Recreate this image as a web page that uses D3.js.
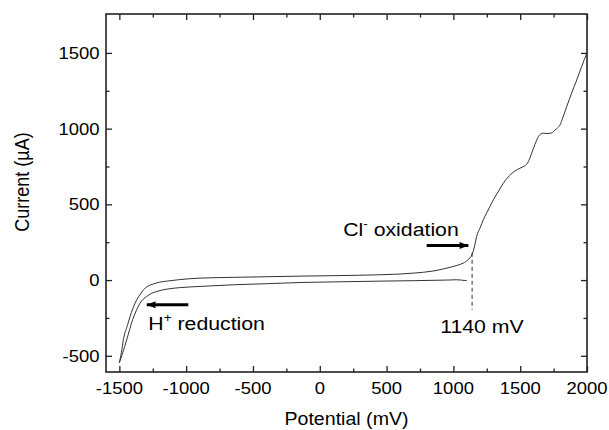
<!DOCTYPE html>
<html>
<head>
<meta charset="utf-8">
<script src="https://cdn.jsdelivr.net/npm/d3@7"></script>
<style>
  body { margin: 0; background: #fff; }
  text { font-family: "Liberation Sans", Arial, sans-serif; fill: #000; }
</style>
</head>
<body>
<div id="chart"></div>
<script>
// upper branch (anodic sweep)
const upperPotential = [-1500, -1485, -1470, -1440, -1400, -1370, -1345, -1320, -1290, -1246, -1200, -1145, -1050, -896, -647, -400, -148, 100, 300, 450, 600, 701, 850, 950, 1030, 1074, 1110, 1140, 1160, 1174, 1200, 1224, 1250, 1274, 1299, 1340, 1374, 1420, 1460, 1499, 1530, 1549, 1570, 1586, 1610, 1636, 1655, 1673, 1700, 1736, 1760, 1780, 1798, 1820, 1848, 1885, 1923, 1960, 2000];
const upperCurrent = [-545, -480, -394, -300, -190, -130, -95, -64, -42, -26, -14, -7, 3, 13, 18, 22, 26, 29, 32, 35, 40, 46, 60, 79, 98, 112, 135, 170, 230, 288, 345, 398, 445, 486, 530, 590, 640, 690, 720, 739, 752, 765, 800, 838, 895, 947, 965, 970, 968, 972, 990, 1005, 1024, 1075, 1145, 1235, 1321, 1410, 1501];
// lower branch
const lowerPotential = [-1500, -1475, -1445, -1400, -1370, -1345, -1320, -1295, -1260, -1220, -1145, -1050, -896, -647, -400, -148, 100, 450, 700, 950, 1020, 1060, 1085, 1100];
const lowerCurrent = [-545, -480, -394, -260, -195, -152, -125, -108, -88, -75, -60, -50, -42, -31, -24, -16, -12, -7, -4, 0, 2, 0, -3, -2];

const xMajor = [-1500, -1000, -500, 0, 500, 1000, 1500, 2000];
const xMinor = [-1250, -750, -250, 250, 750, 1250, 1750];
const yMajor = [-500, 0, 500, 1000, 1500];
const yMinor = [-250, 250, 750, 1250];

const W = 609, H = 430;
const mLeft = 106, mTop = 14, mRight = 587, mBottom = 372;
const SX = 1.12; // horizontal stretch of the lettering

const svg = d3.select("#chart").append("svg").attr("width", W).attr("height", H);

const x = d3.scaleLinear().domain([-1600, 2000]).range([mLeft, mRight]);
const y = d3.scaleLinear().domain([-607, 1757]).range([mBottom, mTop]);

const line = d3.line().x(d => x(d[0])).y(d => y(d[1])).curve(d3.curveMonotoneX);

// ticks on all four sides, pointing in
const gb = svg.append("g").attr("transform", `translate(0,${mBottom})`);
gb.call(d3.axisTop(x).tickValues(xMajor).tickSize(6).tickFormat(""));
gb.append("g").call(d3.axisTop(x).tickValues(xMinor).tickSize(3.5).tickFormat(""));
const gt = svg.append("g").attr("transform", `translate(0,${mTop})`);
gt.call(d3.axisBottom(x).tickValues(xMajor).tickSize(6).tickFormat(""));
gt.append("g").call(d3.axisBottom(x).tickValues(xMinor).tickSize(3.5).tickFormat(""));
const gl = svg.append("g").attr("transform", `translate(${mLeft},0)`);
gl.call(d3.axisRight(y).tickValues(yMajor).tickSize(6).tickFormat(""));
gl.append("g").call(d3.axisRight(y).tickValues(yMinor).tickSize(3.5).tickFormat(""));
const gr = svg.append("g").attr("transform", `translate(${mRight},0)`);
gr.call(d3.axisLeft(y).tickValues(yMajor).tickSize(6).tickFormat(""));
gr.append("g").call(d3.axisLeft(y).tickValues(yMinor).tickSize(3.5).tickFormat(""));
svg.selectAll(".domain").remove();
svg.selectAll(".tick line").attr("stroke", "#222").attr("stroke-width", 1.3);

// tick labels
svg.append("g").selectAll("text").data(xMajor).join("text")
  .attr("transform", d => `translate(${x(d)},394) scale(${SX},1)`)
  .attr("text-anchor", "middle").style("font-size", "16.5px")
  .text(d => d);
svg.append("g").selectAll("text").data(yMajor).join("text")
  .attr("transform", d => `translate(99.5,${y(d) + 6}) scale(${SX},1)`)
  .attr("text-anchor", "end").style("font-size", "16.5px")
  .text(d => d);

// frame
svg.append("rect").attr("x", mLeft).attr("y", mTop).attr("width", mRight - mLeft).attr("height", mBottom - mTop)
  .attr("fill", "none").attr("stroke", "#222").attr("stroke-width", 1.6);

// axis titles
svg.append("text").attr("transform", `translate(${(mLeft + mRight) / 2},425) scale(${SX},1)`)
  .attr("text-anchor", "middle").style("font-size", "17.5px").text("Potential (mV)");
svg.append("text").attr("transform", `translate(29,182) scale(${SX},1) rotate(-90)`)
  .attr("text-anchor", "middle").style("font-size", "18px").text("Current (\u00b5A)");

// curves
svg.append("path").datum(d3.zip(upperPotential, upperCurrent)).attr("d", line)
  .attr("fill", "none").attr("stroke", "#333").attr("stroke-width", 1);
svg.append("path").datum(d3.zip(lowerPotential, lowerCurrent)).attr("d", line)
  .attr("fill", "none").attr("stroke", "#333").attr("stroke-width", 1);

// annotations
svg.append("defs").append("marker").attr("id", "head")
  .attr("viewBox", "0 0 10 8").attr("refX", 10).attr("refY", 4)
  .attr("markerWidth", 10).attr("markerHeight", 7).attr("markerUnits", "userSpaceOnUse")
  .attr("orient", "auto")
  .append("path").attr("d", "M0,0L10,4L0,8Z").attr("fill", "#000");

svg.append("line").attr("x1", x(800)).attr("x2", x(1112)).attr("y1", y(228)).attr("y2", y(228))
  .attr("stroke", "#000").attr("stroke-width", 3).attr("marker-end", "url(#head)");
svg.append("line").attr("x1", x(-984)).attr("x2", x(-1295)).attr("y1", y(-163)).attr("y2", y(-163))
  .attr("stroke", "#000").attr("stroke-width", 3).attr("marker-end", "url(#head)");
svg.append("line").attr("x1", x(1140)).attr("x2", x(1140)).attr("y1", y(180)).attr("y2", y(-196))
  .attr("stroke", "#333").attr("stroke-width", 1).attr("stroke-dasharray", "4,3");

const cl = svg.append("text").attr("transform", `translate(${x(175)},${y(288)}) scale(${SX},1)`)
  .style("font-size", "19px");
cl.append("tspan").text("Cl");
cl.append("tspan").attr("dy", -8).style("font-size", "12px").text("-");
cl.append("tspan").attr("dy", 8).text(" oxidation");

const hr = svg.append("text").attr("transform", `translate(${x(-1283)},${y(-332)}) scale(${SX},1)`)
  .style("font-size", "19px");
hr.append("tspan").text("H");
hr.append("tspan").attr("dy", -8).style("font-size", "12px").text("+");
hr.append("tspan").attr("dy", 8).text(" reduction");

svg.append("text").attr("transform", `translate(${x(1214)},${y(-348)}) scale(${SX},1)`)
  .attr("text-anchor", "middle").style("font-size", "19px").text("1140 mV");
</script>
</body>
</html>
